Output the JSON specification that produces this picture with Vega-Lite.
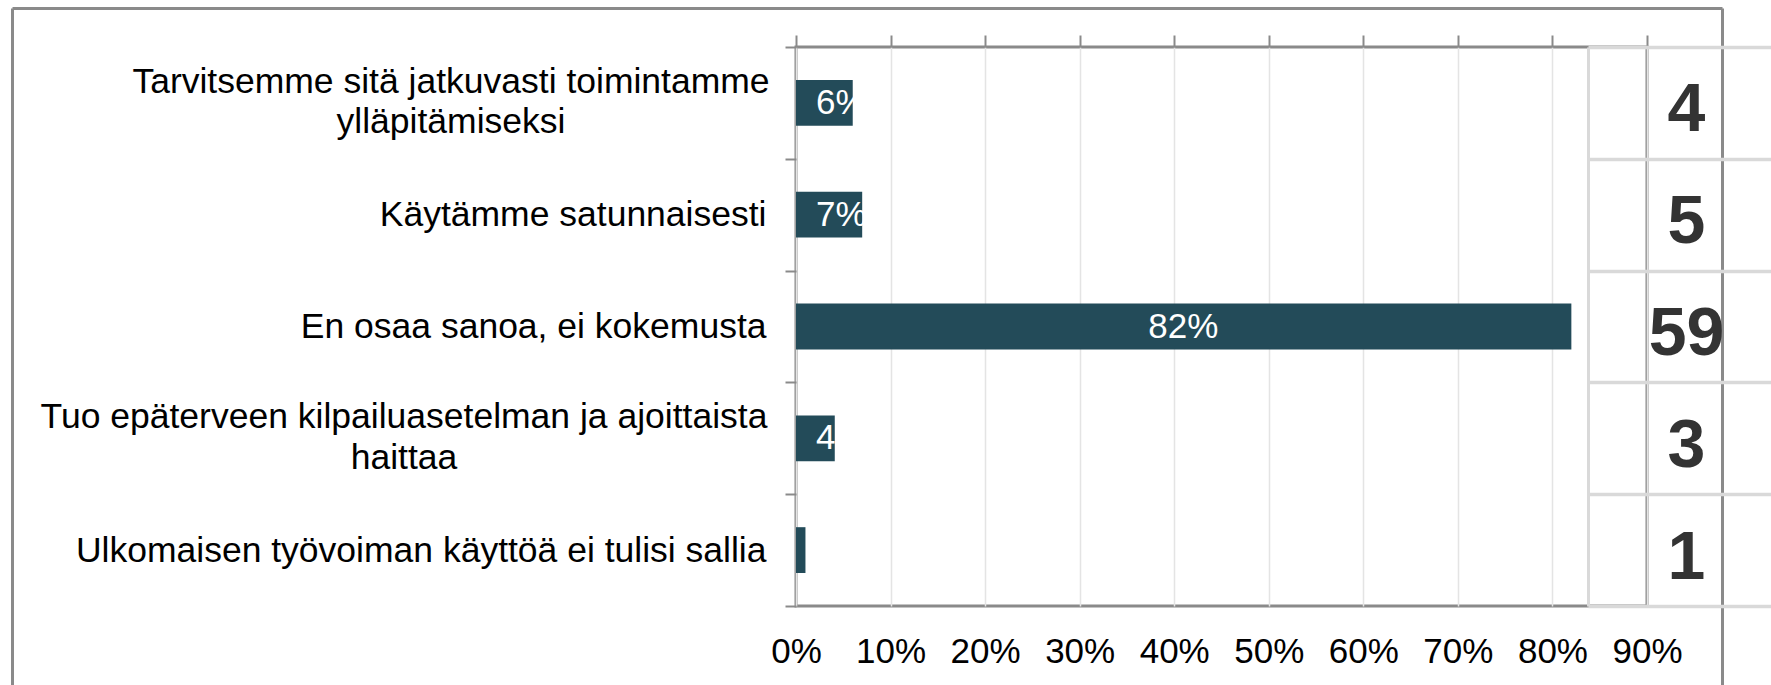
{
  "$schema": "https://vega.github.io/schema/vega-lite/v6.json",
  "width": 851,
  "height": 559,
  "autosize": {"type": "none"},
  "padding": {"left": 796, "top": 47, "right": 124, "bottom": 79},
  "background": "white",
  "config": {
    "font": "Liberation Sans",
    "view": {"stroke": "#8a8a8a", "strokeWidth": 3}
  },
  "data": {
    "values": [
      {"answer": "Tarvitsemme sitä jatkuvasti toimintamme\nylläpitämiseksi", "n": 4, "pct": 0.06},
      {"answer": "Käytämme satunnaisesti", "n": 5, "pct": 0.07},
      {"answer": "En osaa sanoa, ei kokemusta", "n": 59, "pct": 0.82},
      {"answer": "Tuo epäterveen kilpailuasetelman ja ajoittaista\nhaittaa", "n": 3, "pct": 0.041},
      {"answer": "Ulkomaisen työvoiman käyttöä ei tulisi sallia", "n": 1, "pct": 0.01}
    ]
  },
  "layer": [
    {
      "layer": [
        {
          "layer": [
            {
              "mark": {"type": "bar", "color": "#234b59", "height": {"band": 0.41}},
              "encoding": {
                "y": {
                  "field": "answer", "type": "nominal", "sort": null,
                  "scale": {"paddingInner": 0, "paddingOuter": 0},
                  "axis": {
                    "orient": "left", "title": null, "domain": false,
                    "tickBand": "extent", "tickSize": 11, "tickColor": "#8a8a8a", "tickWidth": 2,
                    "labelFontSize": 35.5, "labelColor": "#000000", "labelPadding": 19,
                    "labelLimit": 1000,
                    "labelExpr": "indexof(datum.label, '\\n') >= 0 ? '' : datum.label"
                  }
                },
                "x": {
                  "field": "pct", "type": "quantitative",
                  "scale": {"domain": [0, 0.9]},
                  "axis": {
                    "orient": "bottom", "title": null, "domain": false, "ticks": false, "tickSize": 0,
                    "grid": true, "gridColor": "#e4e4e4", "gridWidth": 1.5,
                    "values": [0, 0.1, 0.2, 0.3, 0.4, 0.5, 0.6, 0.7, 0.8, 0.9],
                    "format": ".0%", "labelFontSize": 35, "labelColor": "#000000",
                    "labelPadding": 28, "labelFlush": false
                  }
                }
              }
            },
            {
              "transform": [{"filter": "datum.pct < 0.2"}],
              "mark": {"type": "text", "align": "left", "baseline": "middle", "dx": 20, "fontSize": 35, "color": "white"},
              "encoding": {
                "y": {"field": "answer", "type": "nominal", "sort": null},
                "x": {"datum": 0, "type": "quantitative"},
                "text": {"field": "pct", "type": "quantitative", "format": ".0%"}
              }
            },
            {
              "transform": [{"filter": "datum.pct >= 0.2"}],
              "mark": {"type": "text", "align": "center", "baseline": "middle", "dx": -388, "fontSize": 35, "color": "white"},
              "encoding": {
                "y": {"field": "answer", "type": "nominal", "sort": null},
                "x": {"field": "pct", "type": "quantitative"},
                "text": {"field": "pct", "type": "quantitative", "format": ".0%"}
              }
            }
          ]
        },
        {
          "layer": [
            {
              "transform": [{"filter": "indexof(datum.answer, 'Tarvitsemme') == 0"}],
              "mark": {"type": "text", "align": "center", "baseline": "alphabetic", "lineBreak": "\n", "lineHeight": 40, "dx": 439, "dy": -10, "fontSize": 35.5, "color": "#000000"},
              "encoding": {
                "y": {"field": "answer", "type": "nominal", "sort": null},
                "x": {
                  "datum": 0, "type": "quantitative",
                  "scale": {"domain": [0, 1], "range": [-784, 926]},
                  "axis": {
                    "orient": "top", "offset": 39, "title": null, "labels": false, "grid": false,
                    "values": [0, 1], "domain": true, "domainColor": "#8a8a8a", "domainWidth": 3,
                    "ticks": true, "tickSize": -700, "tickColor": "#8a8a8a", "tickWidth": 3
                  }
                },
                "text": {"field": "answer", "type": "nominal"}
              }
            },
            {
              "transform": [{"filter": "indexof(datum.answer, 'Tuo ') == 0"}],
              "mark": {"type": "text", "align": "center", "baseline": "alphabetic", "lineBreak": "\n", "lineHeight": 41, "dx": 392, "dy": -10, "fontSize": 35.5, "color": "#000000"},
              "encoding": {
                "y": {"field": "answer", "type": "nominal", "sort": null},
                "x": {"datum": 0, "type": "quantitative"},
                "text": {"field": "answer", "type": "nominal"}
              }
            }
          ]
        }
      ],
      "resolve": {
        "scale": {"x": "independent"},
        "axis": {"x": "independent"}
      }
    },
    {
      "mark": {"type": "bar", "color": "#234b59", "opacity": 0, "height": {"band": 0.41}},
      "encoding": {
        "y": {
          "field": "n", "type": "ordinal", "sort": null,
          "scale": {"paddingInner": 0, "paddingOuter": 0},
          "axis": {
            "orient": "right", "title": null, "offset": -59,
            "domain": true, "domainColor": "#d9d9d9", "domainWidth": 3,
            "tickBand": "extent", "tickSize": 183, "tickColor": "#d9d9d9", "tickWidth": 3.5,
            "labelFontSize": 68, "labelFontWeight": "bold", "labelColor": "#333333",
            "labelAlign": "center", "labelBaseline": "middle", "labelPadding": -85,
            "labelOffset": 8, "labelLimit": 1000
          }
        },
        "x": {
          "field": "pct", "type": "quantitative",
          "scale": {"domain": [0, 0.9]},
          "axis": {
            "orient": "top", "title": null, "domain": false, "labels": false,
            "ticks": true, "tickSize": 12, "tickColor": "#8a8a8a", "tickWidth": 2,
            "grid": false, "values": [0, 0.1, 0.2, 0.3, 0.4, 0.5, 0.6, 0.7, 0.8, 0.9]
          }
        }
      }
    }
  ],
  "resolve": {
    "scale": {"x": "independent", "y": "independent"},
    "axis": {"x": "independent", "y": "independent"}
  }
}
